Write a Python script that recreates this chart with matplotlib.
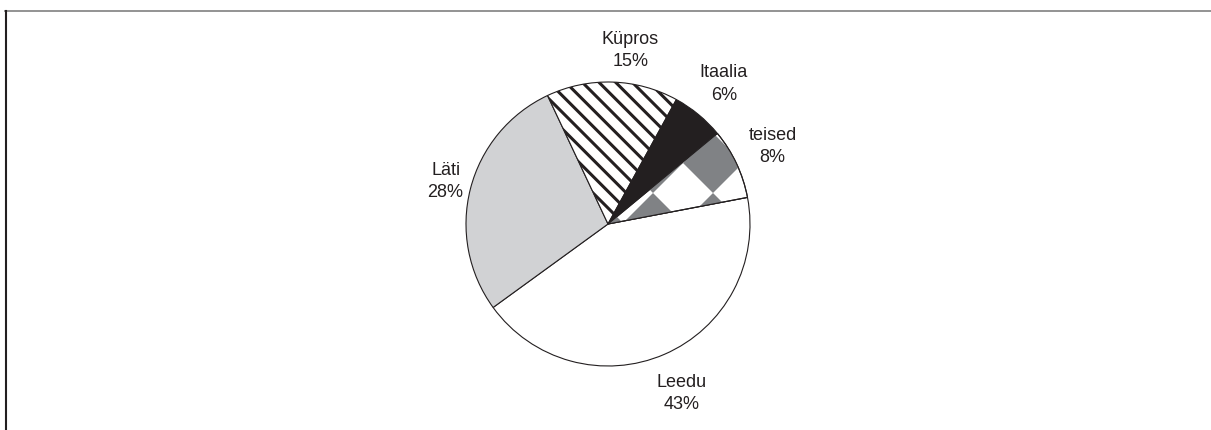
import matplotlib.pyplot as plt
import matplotlib.patches as patches
import numpy as np

plt.rcParams["font.family"] = ["Liberation Sans", "DejaVu Sans"]
plt.rcParams["hatch.linewidth"] = 2.2
plt.rcParams["hatch.color"] = "#231f20"

# data
countries = ["Leedu", "Läti", "Küpros", "Itaalia", "teised"]
shares = [43, 28, 15, 6, 8]
fills = ["#ffffff", "#d1d2d4", "#ffffff", "#231f20", "#ffffff"]
hatches = [None, None, "\\\\", None, None]

W, H = 1211, 430
fig = plt.figure(figsize=(W / 100, H / 100), dpi=100)
fig.patch.set_facecolor("white")
ax = fig.add_axes([0, 0, 1, 1])

cx, cy, R = 608, H - 224, 142
wedges, _ = ax.pie(
    shares,
    colors=fills,
    startangle=10.8,
    counterclock=False,
    center=(cx, cy),
    radius=R,
    wedgeprops=dict(edgecolor="#231f20", linewidth=0.8),
)
for w, h in zip(wedges, hatches):
    if h:
        w.set_hatch(h)

# checkerboard diamonds for "teised"
teised = wedges[-1]
h = 30
for i in range(-8, 9):
    for j in range(-8, 9):
        x0 = 713 + 2 * h * i
        y0 = H - (163 + 2 * h * j)
        d = patches.Polygon(
            [(x0 - h, y0), (x0, y0 + h), (x0 + h, y0), (x0, y0 - h)],
            closed=True, facecolor="#808285", edgecolor="none", zorder=1.5,
        )
        ax.add_patch(d)
        d.set_clip_path(teised)
# redraw outline of teised on top
ax.add_patch(patches.Wedge((cx, cy), R, teised.theta1, teised.theta2,
                           facecolor="none", edgecolor="#231f20",
                           linewidth=0.8, zorder=2))

# labels
label_r = [1.30, 1.21, 1.22, 1.28, 1.28]
label_shift = [0, 4, 17, 0, 0]
for w, name, val, lr, sh in zip(wedges, countries, shares, label_r, label_shift):
    mid = np.deg2rad((w.theta1 + w.theta2) / 2)
    ax.text(cx + lr * R * np.cos(mid) + sh, cy + lr * R * np.sin(mid),
            f"{name}\n{val}%", ha="center", va="center", fontsize=13,
            color="#231f20", linespacing=1.4)

ax.set_xlim(0, W)
ax.set_ylim(0, H)
ax.set_aspect("equal")
ax.axis("off")

# frame lines
fig.add_artist(plt.Line2D([5 / W, 1], [1 - 10.5 / H] * 2, color="#8a8a8a",
                          linewidth=1.3, transform=fig.transFigure))
fig.add_artist(plt.Line2D([5.5 / W] * 2, [0, 1 - 10.5 / H], color="#231f20",
                          linewidth=1.5, transform=fig.transFigure))

fig.savefig("out.png", dpi=100)
